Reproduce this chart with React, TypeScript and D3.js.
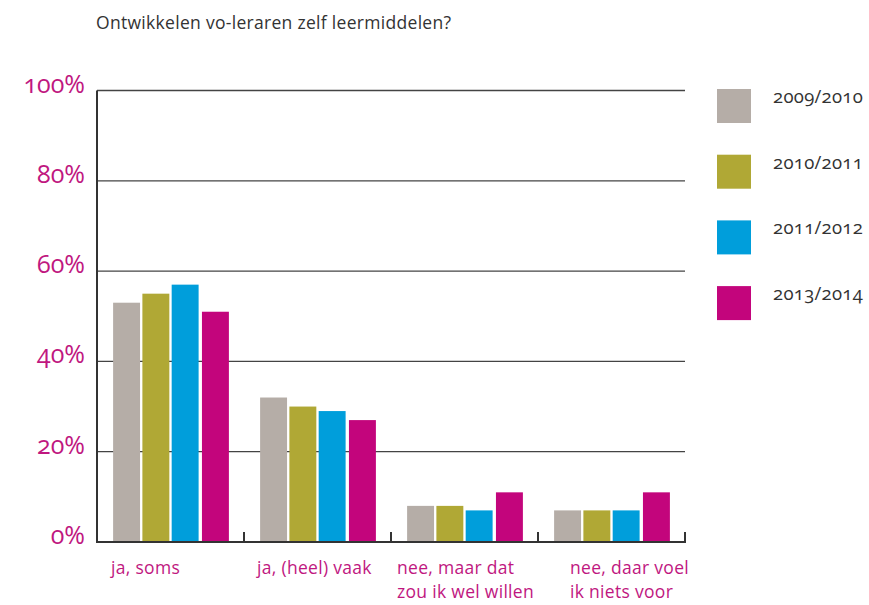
import { useEffect, useRef } from "react";
import * as d3 from "d3";

const categories = ["ja, soms", "ja, (heel) vaak", "nee, maar dat|zou ik wel willen", "nee, daar voel|ik niets voor"];
const series = ["2009/2010", "2010/2011", "2011/2012", "2013/2014"];
const values2009 = [53, 32, 8, 7];
const values2010 = [55, 30, 8, 7];
const values2011 = [57, 29, 7, 7];
const values2013 = [51, 27, 11, 11];
const yTicks = [0, 20, 40, 60, 80, 100];
const colors = ["#b5ada7", "#b0a835", "#009edb", "#c3057c"];

const allValues = [values2009, values2010, values2011, values2013];

export default function App() {
    const ref = useRef<SVGSVGElement>(null);

    useEffect(() => {
        const svg = d3.select(ref.current);
        svg.selectAll("*").remove();

        const left = 97, right = 685, top = 90.5, bottom = 542;
        const font = "'Open Sans', Lato, sans-serif";
        const pink = "#c0177f";

        const x = d3.scaleBand<number>()
            .domain(d3.range(categories.length))
            .range([left, right])
            .paddingInner(0).paddingOuter(0);

        const y = d3.scaleLinear().domain([0, 100]).range([bottom, top]);

        const inner = d3.scaleBand<number>()
            .domain(d3.range(series.length))
            .range([0, x.bandwidth()])
            .paddingOuter(0.55)
            .paddingInner(0.08);

        // title
        svg.append("text")
            .attr("x", 96).attr("y", 29)
            .attr("font-family", font).attr("font-size", 17.5)
            .attr("letter-spacing", 0.3)
            .attr("fill", "#333")
            .text("Ontwikkelen vo-leraren zelf leermiddelen?");

        // grid
        svg.append("g").selectAll("line")
            .data(yTicks.filter(d => d > 0))
            .join("line")
            .attr("x1", left).attr("x2", right)
            .attr("y1", d => y(d)).attr("y2", d => y(d))
            .attr("stroke", "#444").attr("stroke-width", 1.3);

        // y labels
        svg.append("g").selectAll("text")
            .data(yTicks)
            .join("text")
            .attr("x", 85).attr("y", d => y(d) + 2)
            .attr("text-anchor", "end")
            .attr("font-family", font).attr("font-size", 25)
            .style("font-variant-numeric", "oldstyle-nums")
            .attr("fill", pink)
            .text(d => d + "%");

        // bars
        const groups = svg.append("g").selectAll("g")
            .data(categories.map((c, i) => i))
            .join("g")
            .attr("transform", i => `translate(${x(i)},0)`);

        groups.selectAll("rect")
            .data(i => allValues.map((vals, s) => ({ s, v: vals[i] })))
            .join("rect")
            .attr("x", d => inner(d.s)! + (d.s === 3 ? 1 : 0))
            .attr("width", inner.bandwidth())
            .attr("y", d => y(d.v))
            .attr("height", d => y(0) - 1 - y(d.v))
            .attr("fill", d => colors[d.s]);

        // axes
        svg.append("line")
            .attr("x1", left).attr("x2", left)
            .attr("y1", top).attr("y2", bottom + 1)
            .attr("stroke", "#333").attr("stroke-width", 2);
        svg.append("line")
            .attr("x1", left - 1).attr("x2", right + 1)
            .attr("y1", bottom).attr("y2", bottom)
            .attr("stroke", "#333").attr("stroke-width", 2);

        svg.append("g").selectAll("line")
            .data(d3.range(1, categories.length + 1))
            .join("line")
            .attr("x1", i => left + i * x.bandwidth()).attr("x2", i => left + i * x.bandwidth())
            .attr("y1", bottom - 10).attr("y2", bottom)
            .attr("stroke", "#333").attr("stroke-width", 2);

        // category labels, one text per line
        const labelDx = [14, 13, 6, 32];
        const labelLines = categories.flatMap((c, i) =>
            c.split("|").map((line, k) => ({ line, i, k })));
        svg.append("g").selectAll("text")
            .data(labelLines)
            .join("text")
            .attr("x", d => x(d.i)! + labelDx[d.i])
            .attr("y", d => 574 + d.k * 23.5)
            .attr("font-family", font).attr("font-size", 17.5)
            .attr("letter-spacing", 0.3)
            .attr("fill", pink)
            .text(d => d.line);

        // legend
        const legend = svg.append("g").selectAll("g")
            .data(series.map((s, i) => ({ s, i })))
            .join("g")
            .attr("transform", d => `translate(717,${89 + d.i * 65.7})`);
        legend.append("rect")
            .attr("width", 34).attr("height", 34)
            .attr("fill", d => colors[d.i]);
        legend.append("text")
            .attr("x", 56).attr("y", 14)
            .attr("font-family", font).attr("font-size", 18.5)
            .attr("letter-spacing", 0.3)
            .style("font-variant-numeric", "oldstyle-nums")
            .attr("fill", "#333")
            .text(d => d.s);
    }, []);

    return (
        <svg ref={ref} width={869} height={605}
            style={{ position: "absolute", left: 0, top: 0, background: "#fff" }}></svg>
    );
}
